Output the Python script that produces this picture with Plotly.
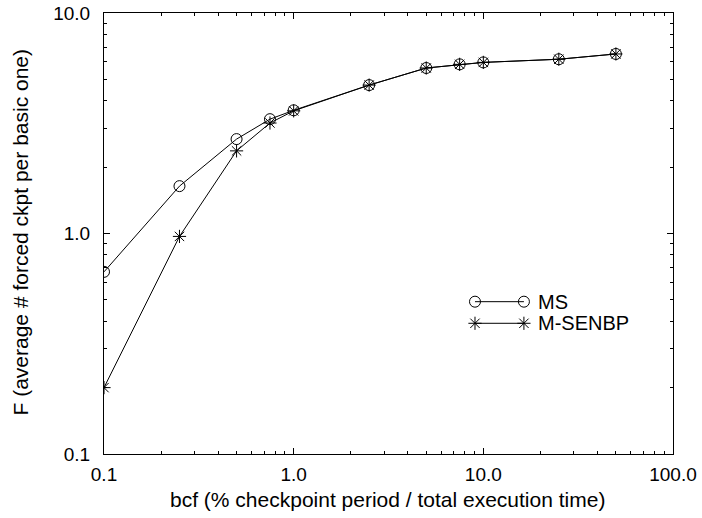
import plotly.graph_objects as go

bcf = [0.1, 0.25, 0.5, 0.75, 1.0, 2.5, 5.0, 7.5, 10.0, 25.0, 50.0]
ms = [0.67, 1.64, 2.68, 3.30, 3.62, 4.71, 5.63, 5.85, 5.97, 6.17, 6.52]
msenbp = [0.20, 0.97, 2.37, 3.17, 3.60, 4.71, 5.63, 5.85, 5.97, 6.17, 6.52]
series_names = ["MS", "M-SENBP"]
x_ticks = [0.1, 1, 10, 100]
x_ticklabels = ["0.1", "1.0", "10.0", "100.0"]
y_ticks = [0.1, 1, 10]
y_ticklabels = ["0.1", "1.0", "10.0"]
x_minor = [m * d for d in (0.1, 1, 10) for m in range(2, 10)]
y_minor = [m * d for d in (0.1, 1) for m in range(2, 10)]
x_title = "bcf (% checkpoint period / total execution time)"
y_title = "F (average # forced ckpt per basic one)"

FONT = "Liberation Sans, Arial, sans-serif"

fig = go.Figure()
fig.add_trace(go.Scatter(x=bcf, y=ms, mode="lines+markers", name=series_names[0],
                         line=dict(color="black", width=1),
                         marker=dict(symbol="circle-open", size=11, color="black", line=dict(width=1)),
                         showlegend=False))
fig.add_trace(go.Scatter(x=bcf, y=msenbp, mode="lines+markers", name=series_names[1],
                         line=dict(color="black", width=1),
                         marker=dict(symbol="asterisk-open", size=11, color="black", line=dict(width=1)),
                         showlegend=False))

# custom legend on an overlay axis (0..1)
leg_x = [0.652, 0.738]
leg_y = [0.3454, 0.2964]
syms = ["circle-open", "asterisk-open"]
for name, yy, sym in zip(series_names, leg_y, syms):
    fig.add_trace(go.Scatter(x=leg_x, y=[yy, yy], xaxis="x2", yaxis="y2", mode="lines+markers",
                             line=dict(color="black", width=1),
                             marker=dict(symbol=sym, size=11, color="black", line=dict(width=1)),
                             showlegend=False, hoverinfo="skip"))
    fig.add_annotation(x=0.760, y=yy, xref="x2", yref="y2", text=name, showarrow=False,
                       xanchor="left", yanchor="middle", font=dict(family=FONT, size=20, color="black"))

fig.add_annotation(x=0.498, y=-0.1043, xref="paper", yref="paper", text=x_title, showarrow=False,
                   xanchor="center", yanchor="middle", font=dict(family=FONT, size=21, color="black"))
fig.add_annotation(x=-0.1476, y=0.5023, xref="paper", yref="paper", text=y_title, showarrow=False,
                   textangle=-90, xanchor="center", yanchor="middle",
                   font=dict(family=FONT, size=21, color="black"))

axis_common = dict(type="log", showline=True, linecolor="black", linewidth=1, mirror="allticks",
                   ticks="inside", ticklen=6, tickcolor="black", showgrid=False, zeroline=False,
                   automargin=False, tickfont=dict(family=FONT, size=19, color="black"))

fig.update_layout(
    width=702, height=518,
    margin=dict(l=104, r=29, t=13, b=64),
    paper_bgcolor="white", plot_bgcolor="white",
    xaxis=dict(axis_common, range=[-1, 2], tickvals=x_ticks, ticktext=x_ticklabels,
               ticklabelstandoff=3,
               minor=dict(ticks="inside", ticklen=3, tickcolor="black", showgrid=False, tickvals=x_minor)),
    yaxis=dict(axis_common, range=[-1, 1], tickvals=y_ticks, ticktext=y_ticklabels,
               ticklabelstandoff=9,
               minor=dict(ticks="inside", ticklen=3, tickcolor="black", showgrid=False, tickvals=y_minor)),
    xaxis2=dict(range=[0, 1], overlaying="x", visible=False, fixedrange=True),
    yaxis2=dict(range=[0, 1], overlaying="y", visible=False, fixedrange=True),
)

fig.write_html("out.html")
